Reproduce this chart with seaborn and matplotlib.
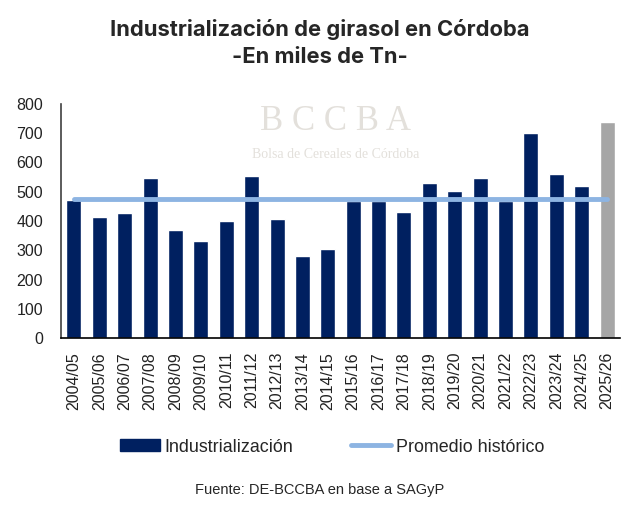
import matplotlib
matplotlib.use("Agg")
import matplotlib.pyplot as plt
import seaborn as sns
import pandas as pd
from matplotlib.patches import Patch
from matplotlib.lines import Line2D

campanias = ["2004/05", "2005/06", "2006/07", "2007/08", "2008/09", "2009/10",
             "2010/11", "2011/12", "2012/13", "2013/14", "2014/15", "2015/16",
             "2016/17", "2017/18", "2018/19", "2019/20", "2020/21", "2021/22",
             "2022/23", "2023/24", "2024/25", "2025/26"]
industrializacion = [472, 413, 426, 547, 370, 332, 401, 555, 406, 281, 305, 468,
                     468, 431, 529, 504, 546, 468, 701, 560, 521, 740]
promedio = 474

azul = "#002060"
gris = "#A6A6A6"
celeste = "#8DB4E2"

sns.set_theme(style="white")
plt.rcParams['font.family'] = ['Liberation Sans', 'DejaVu Sans']

df = pd.DataFrame({"campania": campanias, "valor": industrializacion})
colores = [azul] * (len(campanias) - 1) + [gris]

fig = plt.figure(figsize=(6.4, 5.05), dpi=100)
ax = fig.add_axes([61 / 640, 1 - 338 / 505, (620 - 61) / 640, (338 - 104) / 505])

sns.barplot(data=df, x="campania", y="valor", hue="campania", palette=colores,
            legend=False, width=0.59, saturation=1, ax=ax)
sns.lineplot(x=campanias, y=[promedio] * len(campanias), color=celeste,
             linewidth=3.5, ax=ax, zorder=3)

ax.set_xlim(-0.51, len(campanias) - 0.49)
ax.set_ylim(0, 800)
ax.set_yticks(range(0, 801, 100))
ax.set_xlabel("")
ax.set_ylabel("")
ax.tick_params(axis="y", labelsize=11.5, length=0, pad=13, colors="#222222")
ax.tick_params(axis="x", labelsize=11.5, length=0, pad=10, rotation=90, colors="#222222")
for s in ["top", "right"]:
    ax.spines[s].set_visible(False)
ax.spines["left"].set_color("#404040")
ax.spines["left"].set_linewidth(1.2)
ax.spines["bottom"].set_color("#000000")
ax.spines["bottom"].set_linewidth(1.2)

# marca de agua
fig.text(336 / 640, 1 - 122 / 505, "B C C B A", family="Liberation Serif",
         fontsize=25, color="#E3E0DB", ha="center", va="center", zorder=0)
fig.text(336 / 640, 1 - 155 / 505, "Bolsa de Cereales de Córdoba", family="Liberation Serif",
         fontsize=10, color="#E3E0DB", ha="center", va="center", zorder=0)

fig.text(0.5, 1 - 29 / 505, "Industrialización de girasol en Córdoba", family="Inter",
         fontsize=15.8, fontweight="bold", ha="center", va="center")
fig.text(0.5, 1 - 57 / 505, "-En miles de Tn-", family="Inter",
         fontsize=15.8, fontweight="bold", ha="center", va="center")

handles = [Patch(facecolor=azul, edgecolor=azul),
           Line2D([0], [0], color=celeste, linewidth=3.5)]
fig.legend(handles, ["Industrialización", "Promedio histórico"], loc="center",
           bbox_to_anchor=(332 / 640, 1 - 447 / 505), ncol=2, frameon=False,
           fontsize=12.9, handlelength=2.25, handleheight=0.6, handletextpad=0.25,
           columnspacing=3.2)

fig.text(0.5, 1 - 490 / 505, "Fuente: DE-BCCBA en base a SAGyP",
         fontsize=10.5, ha="center", va="center")

fig.savefig("out.png", dpi=100)
